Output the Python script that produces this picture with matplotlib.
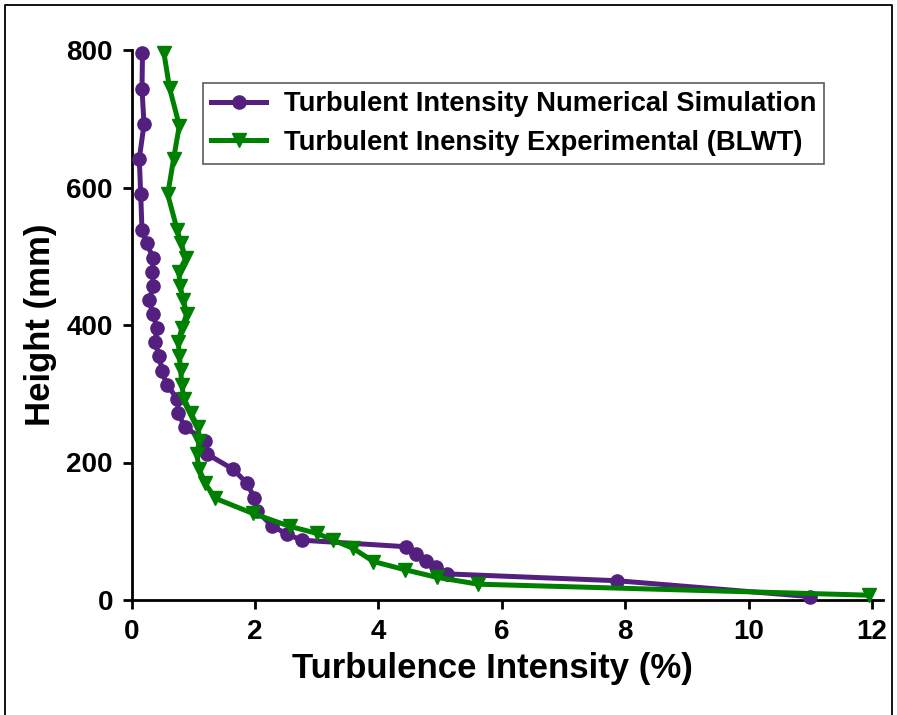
import matplotlib
matplotlib.use("Agg")
import matplotlib.pyplot as plt
from matplotlib.lines import Line2D

# Numerical simulation (purple, circles)
sim_x = [0.175, 0.167, 0.20, 0.123, 0.146, 0.167, 0.243, 0.350, 0.334, 0.350,
         0.285, 0.341, 0.415, 0.373, 0.448, 0.491, 0.568, 0.739, 0.756, 0.856,
         1.189, 1.226, 1.648, 1.865, 1.988, 2.027, 2.270, 2.513, 2.757, 4.448,
         4.602, 4.772, 4.939, 5.108, 7.874, 10.99]
sim_y = [795, 743, 692, 642, 590, 538, 519, 497, 477, 457,
         436, 416, 395, 376, 355, 333, 313, 293, 272, 252,
         232, 212, 190, 170, 149, 130, 108, 96, 87, 77.5,
         67, 57, 48, 38, 28, 5]

# Experimental BLWT (green, down triangles)
exp_x = [0.524, 0.613, 0.772, 0.678, 0.584, 0.739, 0.799, 0.876, 0.764, 0.783,
         0.837, 0.892, 0.811, 0.756, 0.772, 0.795, 0.811, 0.848, 0.957, 1.075,
         1.099, 1.054, 1.096, 1.189, 1.351, 1.962, 2.567, 3.00, 3.269, 3.593,
         3.918, 4.432, 4.946, 5.620, 11.95]
exp_y = [795, 745, 690, 641, 590, 538, 519, 497, 477, 457,
         436, 416, 395, 376, 355, 334, 313, 293, 272, 252,
         232, 212, 190, 170, 148, 126, 107, 97, 87, 75,
         56, 44, 33, 23, 7]

x_ticks = [0, 2, 4, 6, 8, 10, 12]
y_ticks = [0, 200, 400, 600, 800]

plt.rcParams['font.family'] = ['Liberation Sans', 'DejaVu Sans']
plt.rcParams['font.weight'] = 'bold'

W, H = 897, 715
fig = plt.figure(figsize=(W / 100, H / 100), dpi=100)
L, R, B, T = 131.7, 883, 600, 50
ax = fig.add_axes([L / W, 1 - B / H, (R - L) / W, (B - T) / H])

purple = '#54207F'
green = '#008000'
ax.plot(sim_x, sim_y, '-o', color=purple, lw=3.6, ms=9.5,
        label='Turbulent Intensity Numerical Simulation', clip_on=False, zorder=3)
ax.plot(exp_x, exp_y, '-v', color=green, lw=3.6, ms=10,
        label='Turbulent Inensity Experimental (BLWT)', clip_on=False, zorder=4)

ax.set_xlim(0, 12.18)
ax.set_ylim(0, 800)
ax.set_xticks(x_ticks)
ax.set_yticks(y_ticks)
ax.set_xticklabels([str(v) for v in x_ticks])
ax.set_yticklabels([str(v) for v in y_ticks])

for s in ['top', 'right']:
    ax.spines[s].set_visible(False)
for s in ['left', 'bottom']:
    ax.spines[s].set_linewidth(2)
ax.tick_params(axis='both', direction='out', length=6.5, width=2,
               labelsize=20, pad=7)
for lab in ax.get_xticklabels() + ax.get_yticklabels():
    lab.set_fontweight('bold')

ax.set_xlabel('Turbulence Intensity (%)', fontsize=25, fontweight='bold', labelpad=5)
ax.set_ylabel('Height (mm)', fontsize=25, fontweight='bold', labelpad=7)
ax.xaxis.label.set_x((492 - L) / (R - L))

leg = ax.legend(loc='upper left', bbox_to_anchor=(203 / W, 1 - 83 / H),
                bbox_transform=fig.transFigure, frameon=True, fancybox=False,
                prop={'size': 19.7, 'weight': 'bold'}, handlelength=2.0,
                borderpad=0.3, labelspacing=0.45, handletextpad=0.65,
                borderaxespad=0)
leg.get_frame().set_edgecolor('#333333')
leg.get_frame().set_linewidth(1.2)

# outer frame of the figure
fx0, fx1, fy1 = 5 / W, 892 / W, 1 - 5 / H
fig.add_artist(Line2D([fx0, fx0, fx1, fx1], [-0.01, fy1, fy1, -0.01],
                      transform=fig.transFigure, color='black', lw=1.3))

fig.savefig('out.png', dpi=100)
